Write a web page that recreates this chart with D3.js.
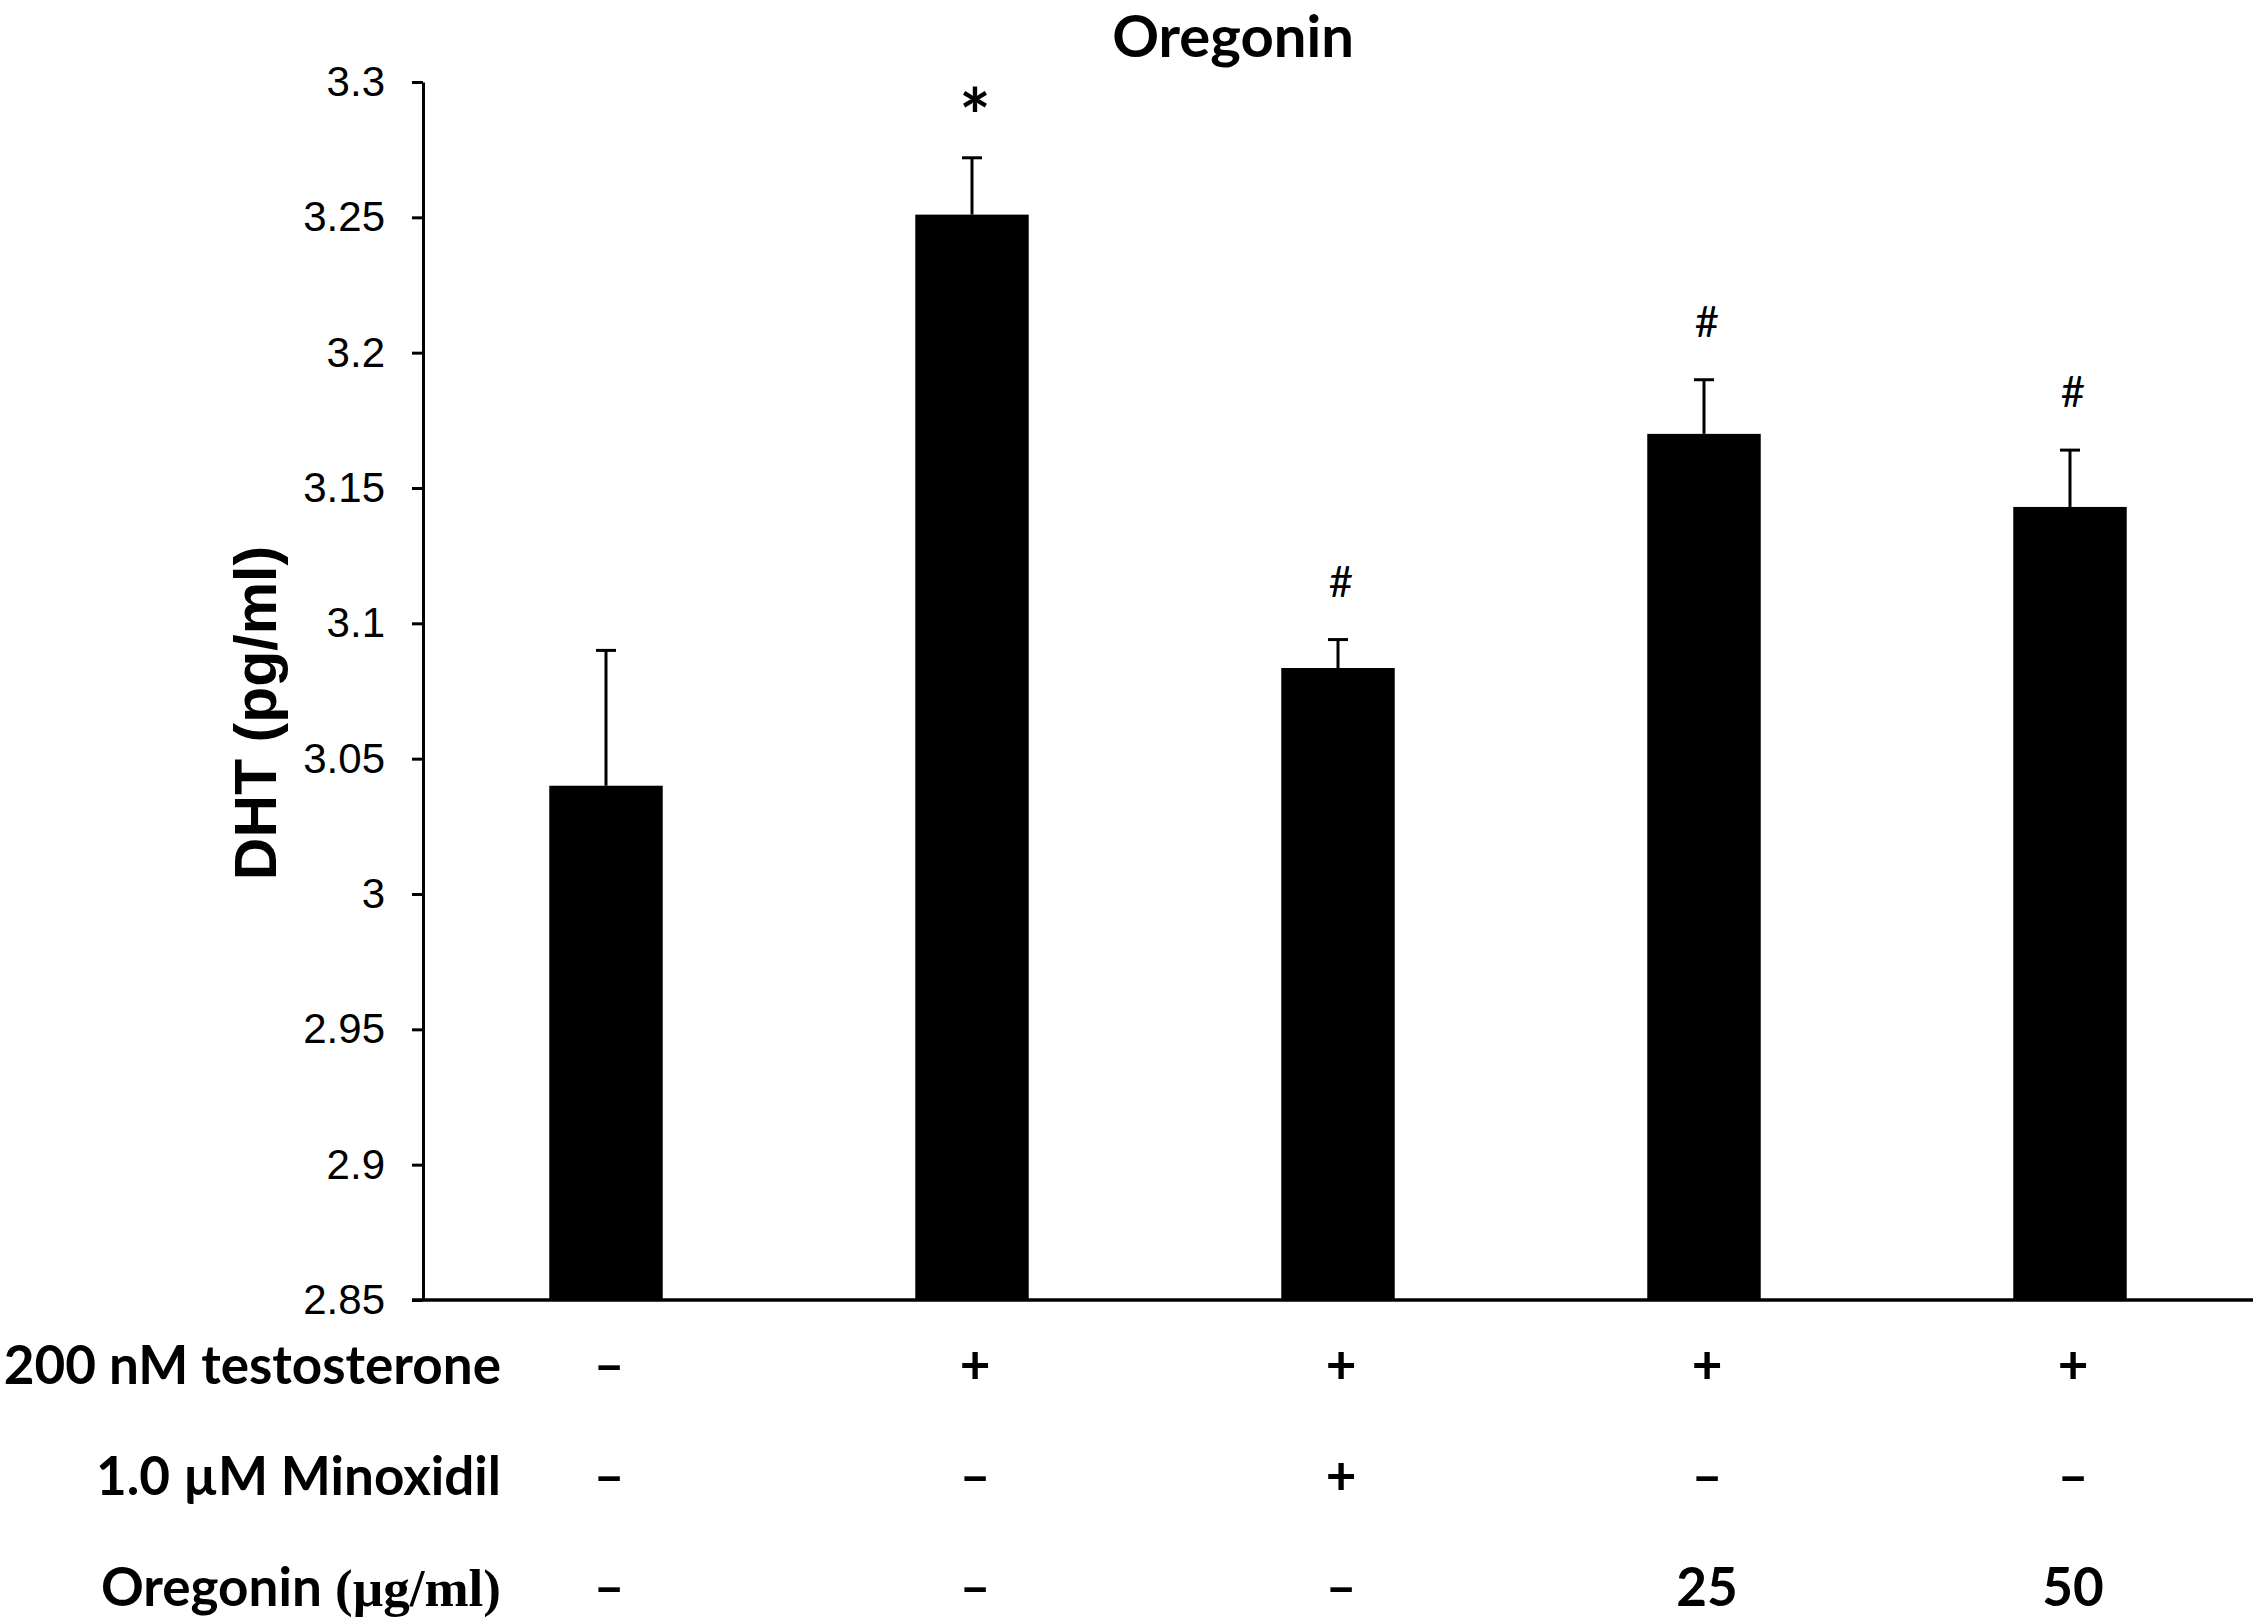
<!DOCTYPE html>
<html>
<head>
<meta charset="utf-8">
<script src="https://cdn.jsdelivr.net/npm/d3@7"></script>
<style>
  body { margin: 0; background: white; }
  .tick text { font-family: "Liberation Sans", Arial, sans-serif; }
</style>
</head>
<body>
<div id="chart"></div>
<script>
// groups along the x axis and the measured DHT values (pg/ml)
const groups = ['control', 'testosterone', 'minoxidil', 'oregonin25', 'oregonin50'];
const dhtMean = [3.040, 3.251, 3.0835, 3.170, 3.143];
const dhtError = [0.050, 0.021, 0.0105, 0.020, 0.021];
const signif = ['', '*', '#', '#', '#'];
const yTicks = [2.85, 2.9, 2.95, 3, 3.05, 3.1, 3.15, 3.2, 3.25, 3.3];

// treatment table under the chart
const rowLabels = ['200 nM testosterone', '1.0 \u00b5M Minoxidil', 'Oregonin'];
const testosteroneRow = ['\u2013', '+', '+', '+', '+'];
const minoxidilRow = ['\u2013', '\u2013', '+', '\u2013', '\u2013'];
const oregoninRow = ['\u2013', '\u2013', '\u2013', '25', '50'];

let width = 2258,
  height = 1624;

let margin = {
  top: 82,
  left: 423,
  right: 5,
  bottom: 324
};

let svg = d3.select('#chart')
  .append('svg')
  .attr('width', width)
  .attr('height', height)
  .style('background-color', 'white');

// scales
let xScale = d3.scaleBand()
  .domain(groups)
  .range([margin.left, width - margin.right])
  .paddingInner(0.69)
  .paddingOuter(0.345);

let yScale = d3.scaleLinear()
  .domain([2.85, 3.3])
  .range([height - margin.bottom, margin.top]);

let calibri = 'Lato, "Open Sans", sans-serif';

// title
svg.append('text')
  .attr('x', 1233)
  .attr('y', 57)
  .attr('text-anchor', 'middle')
  .style('font-family', calibri)
  .style('font-weight', 'bold')
  .style('font-size', '58px')
  .text('Oregonin');

// y axis
let yAxis = d3.axisLeft(yScale)
  .tickValues(yTicks)
  .tickFormat(d => String(+d.toFixed(2)))
  .tickSize(11)
  .tickSizeOuter(0)
  .tickPadding(27);

let yAxisG = svg.append('g')
  .attr('class', 'y axis')
  .attr('transform', `translate(${margin.left}, 0)`)
  .call(yAxis);

yAxisG.selectAll('path, line')
  .attr('stroke', 'black')
  .attr('stroke-width', 3);
yAxisG.selectAll('text')
  .style('font-size', '42px')
  .attr('fill', 'black');

// y axis label
svg.append('text')
  .attr('transform', `translate(276, ${(height - margin.bottom + margin.top) / 2 + 22}) rotate(-90)`)
  .attr('text-anchor', 'middle')
  .style('font-family', '"Liberation Sans", Arial, sans-serif')
  .style('font-weight', 'bold')
  .style('font-size', '59px')
  .text('DHT (pg/ml)');

// bars
svg.append('g')
  .selectAll('rect')
  .data(groups)
  .enter()
  .append('rect')
    .attr('x', d => xScale(d))
    .attr('y', (d, i) => yScale(dhtMean[i]))
    .attr('width', xScale.bandwidth())
    .attr('height', (d, i) => yScale(2.85) - yScale(dhtMean[i]))
    .attr('fill', 'black');

// error bars (upper only)
let errG = svg.append('g')
  .attr('stroke', 'black')
  .attr('stroke-width', 3);

groups.forEach(function(g, i) {
  let cx = xScale(g) + xScale.bandwidth() / 2;
  errG.append('line')
    .attr('x1', cx).attr('x2', cx)
    .attr('y1', yScale(dhtMean[i]))
    .attr('y2', yScale(dhtMean[i] + dhtError[i]));
  errG.append('line')
    .attr('x1', cx - 10).attr('x2', cx + 10)
    .attr('y1', yScale(dhtMean[i] + dhtError[i]))
    .attr('y2', yScale(dhtMean[i] + dhtError[i]));
});

// significance marks
svg.append('g')
  .selectAll('text')
  .data(signif)
  .enter()
  .append('text')
    .attr('x', (d, i) => xScale(groups[i]) + xScale.bandwidth() / 2 + 3)
    .attr('y', (d, i) => yScale(dhtMean[i] + dhtError[i]) - 58)
    .attr('dy', d => d == '*' ? '0.58em' : '0.36em')
    .attr('text-anchor', 'middle')
    .style('font-family', calibri)
    .style('font-weight', d => d == '*' ? 'bold' : 'normal')
    .style('font-size', d => d == '*' ? '74px' : '42px')
    .text(d => d);

// x axis line, extended left to meet the tick at 2.85
svg.append('line')
  .attr('x1', margin.left - 11)
  .attr('x2', xScale.range()[1])
  .attr('y1', yScale(2.85))
  .attr('y2', yScale(2.85))
  .attr('stroke', 'black')
  .attr('stroke-width', 3.5);

// treatment table
let rows = [testosteroneRow, minoxidilRow, oregoninRow];
let rowY = [1365, 1476, 1587];

rows.forEach(function(row, r) {
  let label = svg.append('text')
    .attr('x', 501)
    .attr('y', rowY[r])
    .attr('dy', '0.36em')
    .attr('text-anchor', 'end')
    .style('font-family', calibri)
    .style('font-weight', 'bold')
    .style('font-size', '53px')
    .text(rowLabels[r]);
  if (r == 2) {
    label.append('tspan')
      .text(' (\u00b5g/ml)')
      .style('font-family', '"Liberation Serif", "Times New Roman", serif');
  }

  svg.append('g')
    .selectAll('text')
    .data(row)
    .enter()
    .append('text')
      .attr('x', (d, i) => xScale(groups[i]) + xScale.bandwidth() / 2 + 3)
      .attr('y', rowY[r])
      .attr('dy', '0.36em')
      .attr('text-anchor', 'middle')
      .style('font-family', calibri)
      .style('font-weight', 'bold')
      .style('font-size', '53px')
      .text(d => d);
});
</script>
</body>
</html>
